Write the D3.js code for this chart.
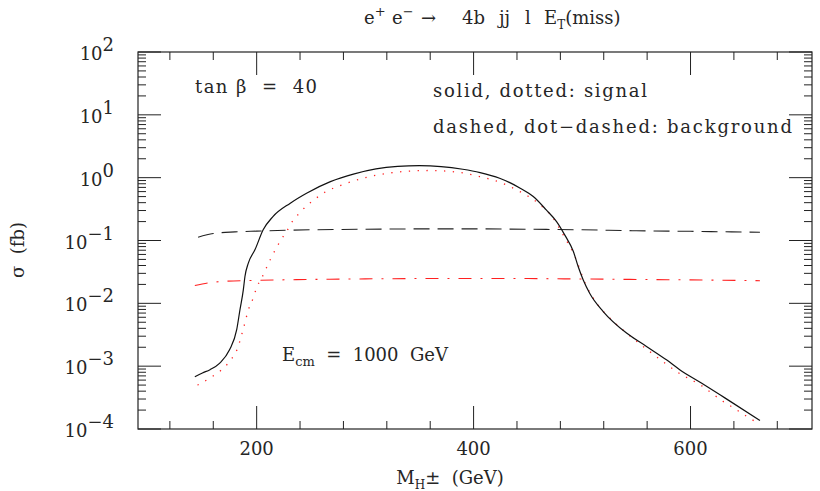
<!DOCTYPE html>
<html>
<head>
<meta charset="utf-8">
<script src="https://cdn.jsdelivr.net/npm/d3@7"></script>
<style>
  body { margin: 0; background: #fff; }
  svg text { font-family: "DejaVu Serif", serif; fill: #262626; white-space: pre; }
</style>
</head>
<body>
<div id="chart"></div>
<script>
// Masse du H± (GeV) et sections efficaces (fb)
const massSolid = [143, 150, 157, 166, 175, 181.6, 184.6, 187.7, 189.2, 192.3, 198.4, 206, 215, 231, 246, 268, 290, 310, 330, 350, 370, 390, 406, 424, 443, 455, 467, 476.5, 484, 492, 496.4, 501, 507, 519.5, 541, 559.4, 577.8, 590, 610, 632, 664];
const sigmaSolid = [6.8e-4, 7.8e-4, 8.8e-4, 1.12e-3, 1.82e-3, 3.8e-3, 7.9e-3, 0.0164, 0.0267, 0.0436, 0.071, 0.148, 0.24, 0.393, 0.566, 0.865, 1.15, 1.38, 1.51, 1.55, 1.5, 1.36, 1.205, 0.98, 0.68, 0.5, 0.307, 0.2, 0.123, 0.0667, 0.0385, 0.0237, 0.0145, 7.4e-3, 3.36e-3, 2.06e-3, 1.26e-3, 8.8e-4, 5.4e-4, 3.1e-4, 1.37e-4];

const massDotted = [145.5, 154.8, 163, 170.8, 177.2, 182.1, 187.7, 192.9, 196.9, 200, 204.6, 208.6, 212.9, 217.5, 222.4, 227.6, 232.8, 238.8, 246, 253.6, 261.4, 280, 300, 320, 340, 360, 380, 395, 405.8, 424.2, 442.7, 459.5, 473.4, 482.6, 493.4, 503.5, 513.4, 527.2, 541, 556.3, 573.3, 588.6, 610, 630, 638.6, 646.9, 655.2, 663.9];
const sigmaDotted = [5.0e-4, 6.15e-4, 7.6e-4, 9.8e-4, 1.33e-3, 1.87e-3, 3.94e-3, 8.4e-3, 0.0122, 0.0179, 0.0252, 0.0354, 0.051, 0.0728, 0.102, 0.139, 0.2, 0.265, 0.356, 0.454, 0.566, 0.78, 1.0, 1.17, 1.27, 1.3, 1.25, 1.15, 1.04, 0.845, 0.6, 0.393, 0.226, 0.123, 0.0555, 0.0197, 0.0101, 5.47e-3, 3.36e-3, 2.06e-3, 1.23e-3, 7.9e-4, 4.9e-4, 2.75e-4, 2.23e-4, 1.8e-4, 1.46e-4, 1.2e-4];

const massDashed = [146, 160, 180, 200, 250, 300, 350, 400, 450, 500, 550, 600, 664];
const sigmaDashed = [0.113, 0.129, 0.137, 0.141, 0.148, 0.151, 0.153, 0.153, 0.151, 0.148, 0.143, 0.14, 0.135];

const massDotDash = [143, 155, 170, 200, 250, 300, 350, 400, 450, 500, 550, 600, 664];
const sigmaDotDash = [0.0192, 0.0211, 0.0224, 0.0232, 0.024, 0.0245, 0.0248, 0.0249, 0.0248, 0.0244, 0.024, 0.0236, 0.0229];

const xMajorTicks = [200, 400, 600];
const xMinorTicks = [120, 160, 240, 280, 320, 360, 440, 480, 520, 560, 640, 680];
const yExponents = [-4, -3, -2, -1, 0, 1, 2];

const W = 820, H = 491;
const plot = { left: 138, right: 812, top: 52, bottom: 429 };

const svg = d3.select('#chart').append('svg')
    .attr('width', W).attr('height', H);

const x = d3.scaleLinear().domain([90.6, 712]).range([plot.left, plot.right]);
const y = d3.scaleLog().domain([1e-4, 1e2]).range([plot.bottom, plot.top]);

// Cadre
svg.append('rect')
    .attr('x', plot.left).attr('y', plot.top)
    .attr('width', plot.right - plot.left).attr('height', plot.bottom - plot.top)
    .attr('fill', 'none').attr('stroke', '#222').attr('stroke-width', 1.2);

const MAJOR = 23, MINOR = 8;

// Graduations en x (bas et haut, vers l'intérieur)
function xTicks(values, len) {
    const g = svg.append('g').attr('stroke', '#222').attr('stroke-width', 1);
    g.selectAll('line.b').data(values).enter().append('line')
        .attr('x1', d => x(d)).attr('x2', d => x(d))
        .attr('y1', plot.bottom).attr('y2', plot.bottom - len);
    g.selectAll('line.t').data(values).enter().append('line')
        .attr('x1', d => x(d)).attr('x2', d => x(d))
        .attr('y1', plot.top).attr('y2', plot.top + len);
}
xTicks(xMajorTicks, MAJOR);
xTicks(xMinorTicks, MINOR);

svg.append('g').selectAll('text').data(xMajorTicks).enter().append('text')
    .attr('x', d => x(d)).attr('y', 455)
    .attr('text-anchor', 'middle').attr('font-size', 18)
    .text(d => d);

// Graduations en y (log)
const yMinor = [];
yExponents.slice(0, -1).forEach(e => {
    for (let k = 2; k <= 9; k++) yMinor.push(k * Math.pow(10, e));
});
const yMajor = yExponents.map(e => Math.pow(10, e));

function yTicks(values, len) {
    const g = svg.append('g').attr('stroke', '#222').attr('stroke-width', 1);
    g.selectAll('line.l').data(values).enter().append('line')
        .attr('x1', plot.left).attr('x2', plot.left + len)
        .attr('y1', d => y(d)).attr('y2', d => y(d));
    g.selectAll('line.r').data(values).enter().append('line')
        .attr('x1', plot.right).attr('x2', plot.right - len)
        .attr('y1', d => y(d)).attr('y2', d => y(d));
}
yTicks(yMajor, MAJOR);
yTicks(yMinor, MINOR);

const yLab = svg.append('g').selectAll('text').data(yExponents).enter().append('text')
    .attr('x', 114).attr('y', d => y(Math.pow(10, d)) + 8)
    .attr('text-anchor', 'end').attr('font-size', 18);
yLab.append('tspan').text('10');
yLab.append('tspan').attr('dy', -9).attr('font-size', 18)
    .text(d => d < 0 ? '\u2212' + (-d) : String(d));

// Courbes
const line = d3.line().x(d => x(d[0])).y(d => y(d[1])).curve(d3.curveMonotoneX);

function drawCurve(xs, ys, color, dash, width) {
    svg.append('path')
        .datum(d3.zip(xs, ys))
        .attr('d', line)
        .attr('fill', 'none')
        .attr('stroke', color)
        .attr('stroke-width', width)
        .attr('stroke-dasharray', dash);
}
drawCurve(massDashed, sigmaDashed, '#222', '16,8', 1.1);
drawCurve(massDotDash, sigmaDotDash, '#ff2020', '13,9,2,9', 1.1);
drawCurve(massDotted, sigmaDotted, '#ff2020', '1.3,7.5', 1.3);
drawCurve(massSolid, sigmaSolid, '#111', null, 1.2);

// Textes
svg.append('text').attr('x', 195).attr('y', 93).attr('font-size', 18)
    .attr('textLength', 122).attr('lengthAdjust', 'spacing')
    .text('tan \u03b2  =  40');

svg.append('text').attr('x', 433).attr('y', 97).attr('font-size', 18)
    .attr('textLength', 214).attr('lengthAdjust', 'spacing')
    .text('solid, dotted: signal');
svg.append('text').attr('x', 433).attr('y', 133).attr('font-size', 18)
    .attr('textLength', 359).attr('lengthAdjust', 'spacing')
    .text('dashed, dot\u2212dashed: background');

const ecm = svg.append('text').attr('x', 282).attr('y', 361).attr('font-size', 18);
ecm.append('tspan').text('E');
ecm.append('tspan').attr('dy', 5).attr('font-size', 13).text('cm');
ecm.append('tspan').attr('dy', -5).text('  =  1000  GeV');

const title = svg.append('text').attr('y', 24).attr('font-size', 18);
title.append('tspan').attr('x', 364).text('e');
title.append('tspan').attr('dy', -8).attr('font-size', 13).text('+');
title.append('tspan').attr('x', 392).attr('dy', 8).text('e');
title.append('tspan').attr('dy', -8).attr('font-size', 13).text('\u2212');
title.append('tspan').attr('x', 421).attr('dy', 8).text('\u2192');
title.append('tspan').attr('x', 462).text('4b');
title.append('tspan').attr('x', 499).text('jj');
title.append('tspan').attr('x', 525).text('l');
title.append('tspan').attr('x', 544).text('E');
title.append('tspan').attr('dy', 5).attr('font-size', 12).text('T');
title.append('tspan').attr('dy', -5).text('(miss)');

const xl = svg.append('text').attr('x', 450).attr('y', 484)
    .attr('text-anchor', 'middle').attr('font-size', 18);
xl.append('tspan').text('M');
xl.append('tspan').attr('dy', 5).attr('font-size', 12).text('H');
xl.append('tspan').attr('dy', -5).text('\u00b1  (GeV)');

svg.append('text')
    .attr('transform', 'translate(24,250) rotate(-90)')
    .attr('text-anchor', 'middle').attr('font-size', 18)
    .text('\u03c3  (fb)');
</script>
</body>
</html>
